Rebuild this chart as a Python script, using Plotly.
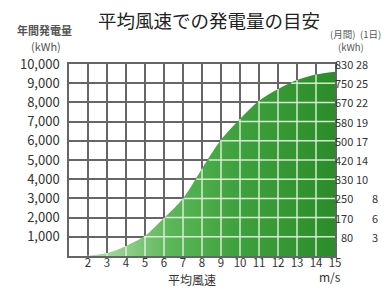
import numpy as np
import plotly.graph_objects as go

# ---- data ----
wind_speed = [2, 3, 4, 5, 6, 7, 8, 9, 10, 11, 12, 13, 14, 15]
annual_kwh = [15, 150, 520, 1050, 1980, 3000, 4550, 6050, 7130, 8080, 8700, 9170, 9450, 9600]
x_ticks = list(range(2, 16))
y_ticks = [1000, 2000, 3000, 4000, 5000, 6000, 7000, 8000, 9000, 10000]
monthly_labels = ["80", "170", "250", "330", "420", "500", "580", "670", "750", "830"]
daily_labels = ["3", "6", "8", "10", "14", "17", "19", "22", "25", "28"]

title = "平均風速での発電量の目安"
x_title = "平均風速"
x_unit = "m/s"
left_title = ["年間発電量", "(kWh)"]
right_title = ["(月間)", "(1日)", "(kWh)"]

FONT = "Noto Sans CJK JP"
GRAY = "#666666"
TXT = "#333333"

# page offset (default body margin) and figure geometry in window pixels
OFF = 8
W, H = 389 - OFF, 289 - OFF
L, R, T, B = 66 - OFF, W - (335 - OFF), 64 - OFF, H - (256 - OFF)

fig = go.Figure()

fig.add_trace(go.Scatter(
    x=[1.7] + wind_speed, y=[0] + annual_kwh,
    mode="lines", line=dict(width=0, shape="spline", smoothing=0.8),
    fill="tozeroy",
    fillgradient=dict(type="horizontal",
                      colorscale=[[0, "#b4e2ae"], [0.18, "#8ccd86"], [0.35, "#5bb657"],
                                  [0.6, "#40a23e"], [1, "#2b8c2a"]]),
    hoverinfo="skip", showlegend=False,
))

# light grid lines over the green area
gx, gy = [], []
for xs, ys in zip(wind_speed[:-1], annual_kwh[:-1]):
    gx += [xs, xs, None]
    gy += [0, ys, None]
for yt in y_ticks:
    if yt < annual_kwh[-1]:
        xc = float(np.interp(yt, annual_kwh, wind_speed)) + 0.06
        gx += [xc, wind_speed[-1], None]
        gy += [yt, yt, None]
fig.add_trace(go.Scatter(x=gx, y=gy, mode="lines",
                         line=dict(color="rgba(228,245,224,0.9)", width=1.5),
                         hoverinfo="skip", showlegend=False))

fig.update_xaxes(range=[1, 15], tickvals=x_ticks, ticktext=[str(v) for v in x_ticks],
                 showgrid=True, gridcolor=GRAY, gridwidth=1.5,
                 showline=True, linecolor=GRAY, linewidth=1.5, mirror=True,
                 zeroline=False, ticks="", ticklen=0, ticklabelstandoff=-5,
                 tickfont=dict(family=FONT, size=11.5, color=TXT), fixedrange=True)
fig.update_yaxes(range=[0, 10000], tickvals=y_ticks, tickformat=",d",
                 showgrid=True, gridcolor=GRAY, gridwidth=1.5,
                 showline=True, linecolor=GRAY, linewidth=1.5, mirror=True,
                 zeroline=False, ticks="", ticklen=0, ticklabelstandoff=5,
                 tickfont=dict(family=FONT, size=13, color=TXT), fixedrange=True)


def px(xw):
    return (xw - OFF - L) / (W - L - R)


def py(yw):
    return (H - B - (yw - OFF)) / (H - T - B)


annotations = []
for yt, m, d in zip(y_ticks, monthly_labels, daily_labels):
    annotations.append(dict(x=px(354), xref="paper", y=yt, yref="y", text=m,
                            showarrow=False, xanchor="right", yanchor="middle", borderpad=0,
                            font=dict(family=FONT, size=11, color=TXT)))
    annotations.append(dict(x=px(369 if len(d) > 1 else 379), xref="paper", y=yt, yref="y",
                            text=d, showarrow=False, xanchor="right", yanchor="middle",
                            borderpad=0, font=dict(family=FONT, size=11, color=TXT)))


def text(t, x, y, size, xanchor="center", color=TXT, weight="normal"):
    annotations.append(dict(text=t, x=px(x), y=py(y), xref="paper", yref="paper",
                            showarrow=False, xanchor=xanchor, yanchor="middle", borderpad=0,
                            font=dict(family=FONT, size=size, color=color, weight=weight)))


text(title, 208, 20, 18.5, color="#222222")
text(left_title[0], 41, 30, 11, color="#555555", weight="bold")
text(left_title[1], 43, 46, 11, color="#555555")
text(right_title[0], 343, 34, 9.5, color="#555555")
text(right_title[1], 371, 34, 9.5, color="#555555")
text(right_title[2], 351, 47, 9.5, color="#555555")
text(x_title, 190, 279, 12)
text(x_unit, 330, 276, 12)

fig.update_layout(width=W, height=H, margin=dict(l=L, r=R, t=T, b=B),
                  paper_bgcolor="white", plot_bgcolor="white",
                  annotations=annotations, showlegend=False)
fig.write_html("out.html", config={"displayModeBar": False})
